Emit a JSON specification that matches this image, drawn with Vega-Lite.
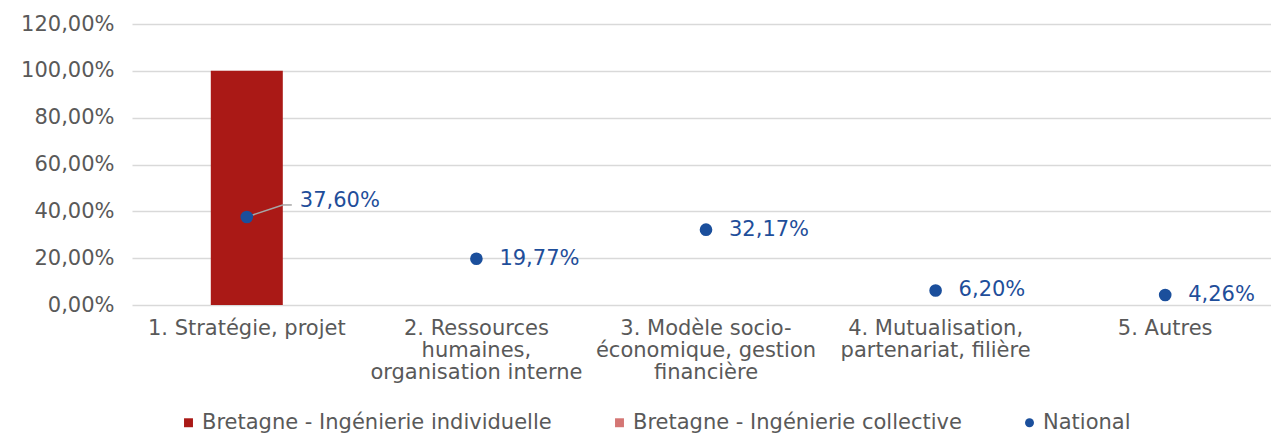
{
  "$schema": "https://vega.github.io/schema/vega-lite/v6.json",
  "width": 1139,
  "height": 281,
  "autosize": {"type": "none"},
  "padding": {"left": 132, "top": 24, "right": 0, "bottom": 128},
  "config": {
    "locale": {"number": {"decimal": ",", "thousands": " ", "grouping": [3], "currency": ["", " €"]}},
    "view": {"stroke": null},
    "font": "DejaVu Sans"
  },
  "datasets": {
    "bars": [
      {"categorie": "1. Stratégie, projet", "serie": "Bretagne - Ingénierie individuelle", "valeur": 1.0},
      {"categorie": "2. Ressources humaines, organisation interne", "serie": "Bretagne - Ingénierie individuelle", "valeur": 0},
      {"categorie": "3. Modèle socio-économique, gestion financière", "serie": "Bretagne - Ingénierie individuelle", "valeur": 0},
      {"categorie": "4. Mutualisation, partenariat, filière", "serie": "Bretagne - Ingénierie individuelle", "valeur": 0},
      {"categorie": "5. Autres", "serie": "Bretagne - Ingénierie individuelle", "valeur": 0},
      {"categorie": "1. Stratégie, projet", "serie": "Bretagne - Ingénierie collective", "valeur": 0},
      {"categorie": "2. Ressources humaines, organisation interne", "serie": "Bretagne - Ingénierie collective", "valeur": 0},
      {"categorie": "3. Modèle socio-économique, gestion financière", "serie": "Bretagne - Ingénierie collective", "valeur": 0},
      {"categorie": "4. Mutualisation, partenariat, filière", "serie": "Bretagne - Ingénierie collective", "valeur": 0},
      {"categorie": "5. Autres", "serie": "Bretagne - Ingénierie collective", "valeur": 0}
    ],
    "national": [
      {"categorie": "1. Stratégie, projet", "serie": "National", "valeur": 0.376},
      {"categorie": "2. Ressources humaines, organisation interne", "serie": "National", "valeur": 0.1977},
      {"categorie": "3. Modèle socio-économique, gestion financière", "serie": "National", "valeur": 0.3217},
      {"categorie": "4. Mutualisation, partenariat, filière", "serie": "National", "valeur": 0.062},
      {"categorie": "5. Autres", "serie": "National", "valeur": 0.0426}
    ]
  },
  "encoding": {
    "x": {
      "field": "categorie",
      "type": "nominal",
      "sort": null,
      "scale": {"paddingInner": 0, "paddingOuter": 0, "range": [0, 1148]},
      "axis": {
        "title": null,
        "labelAngle": 0,
        "domain": false,
        "ticks": false,
        "labelPadding": 12,
        "labelFontSize": 21,
        "labelColor": "#595959",
        "labelFont": "DejaVu Sans",
        "labelLineHeight": 22,
        "labelLimit": 400,
        "labelExpr": "datum.value == '2. Ressources humaines, organisation interne' ? ['2. Ressources', 'humaines,', 'organisation interne'] : datum.value == '3. Modèle socio-économique, gestion financière' ? ['3. Modèle socio-', 'économique, gestion', 'financière'] : datum.value == '4. Mutualisation, partenariat, filière' ? ['4. Mutualisation,', 'partenariat, filière'] : datum.value"
      }
    },
    "y": {
      "field": "valeur",
      "type": "quantitative",
      "scale": {"domain": [0, 1.2]},
      "axis": {
        "title": null,
        "format": ".2%",
        "values": [0, 0.2, 0.4, 0.6, 0.8, 1.0, 1.2],
        "domain": false,
        "ticks": false,
        "labelPadding": 18,
        "labelFontSize": 21,
        "labelColor": "#595959",
        "labelFont": "DejaVu Sans",
        "gridColor": "#D9D9D9",
        "gridWidth": 1.3
      }
    }
  },
  "layer": [
    {
      "data": {"name": "bars"},
      "mark": {"type": "bar", "size": 72},
      "encoding": {
        "color": {
          "field": "serie",
          "type": "nominal",
          "scale": {
            "domain": ["Bretagne - Ingénierie individuelle", "Bretagne - Ingénierie collective", "National"],
            "range": ["#AA1916", "#D47674", "#1B4F9C"]
          },
          "legend": {
            "title": null,
            "orient": "none",
            "direction": "horizontal",
            "legendX": 46,
            "legendY": 388,
            "labelFont": "DejaVu Sans",
            "labelFontSize": 21,
            "labelColor": "#595959",
            "symbolSize": 80,
            "columnPadding": 57,
            "labelOffset": 3,
            "labelLimit": 500,
            "encode": {
              "symbols": {
                "update": {
                  "shape": {"signal": "datum.label == 'National' ? 'circle' : 'square'"}
                }
              }
            }
          }
        }
      }
    },
    {
      "data": {"name": "national"},
      "transform": [{"filter": "datum.categorie == '1. Stratégie, projet'"}],
      "mark": {"type": "rule", "color": "#A6A6A6", "strokeWidth": 1.5, "x2Offset": 36, "y2Offset": -12},
      "encoding": {
        "x2": {"field": "categorie"},
        "y2": {"field": "valeur"}
      }
    },
    {
      "data": {"name": "national"},
      "transform": [{"filter": "datum.categorie == '1. Stratégie, projet'"}],
      "mark": {"type": "rule", "color": "#A6A6A6", "strokeWidth": 1.5, "xOffset": 36, "x2Offset": 45, "yOffset": -12, "y2Offset": -12},
      "encoding": {
        "x2": {"field": "categorie"},
        "y2": {"field": "valeur"}
      }
    },
    {
      "data": {"name": "national"},
      "mark": {"type": "point", "filled": true, "opacity": 1, "size": 160, "shape": "circle"},
      "encoding": {
        "color": {"field": "serie", "type": "nominal"}
      }
    },
    {
      "data": {"name": "national"},
      "transform": [{"filter": "datum.categorie == '1. Stratégie, projet'"}],
      "mark": {"type": "text", "align": "left", "baseline": "middle", "dx": 53, "dy": -16, "fontSize": 21, "font": "DejaVu Sans", "color": "#1F4E9A"},
      "encoding": {"text": {"field": "valeur", "type": "quantitative", "format": ".2%"}}
    },
    {
      "data": {"name": "national"},
      "transform": [{"filter": "datum.categorie != '1. Stratégie, projet'"}],
      "mark": {"type": "text", "align": "left", "baseline": "middle", "dx": 23, "fontSize": 21, "font": "DejaVu Sans", "color": "#1F4E9A"},
      "encoding": {"text": {"field": "valeur", "type": "quantitative", "format": ".2%"}}
    }
  ]
}
